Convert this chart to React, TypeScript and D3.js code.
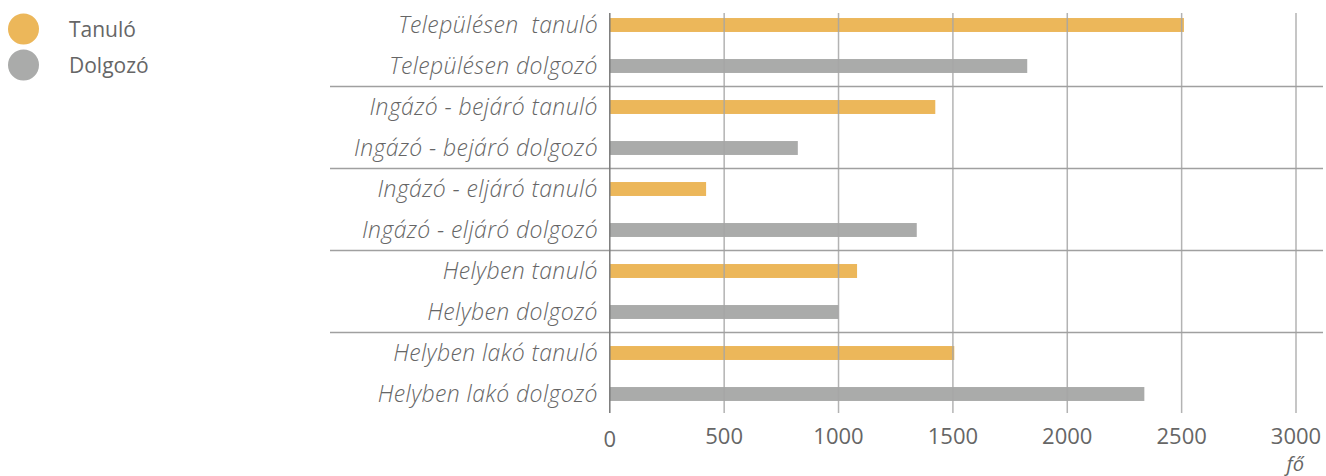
import * as d3 from "d3";

// category labels top to bottom
const categories = [
  "Településen  tanuló",
  "Településen dolgozó",
  "Ingázó - bejáró tanuló",
  "Ingázó - bejáró dolgozó",
  "Ingázó - eljáró tanuló",
  "Ingázó - eljáró dolgozó",
  "Helyben tanuló",
  "Helyben dolgozó",
  "Helyben lakó tanuló",
  "Helyben lakó dolgozó",
];
const values = [2510, 1825, 1423, 822, 421, 1342, 1081, 1000, 1506, 2337];
const kinds = ["Tanuló", "Dolgozó", "Tanuló", "Dolgozó", "Tanuló", "Dolgozó", "Tanuló", "Dolgozó", "Tanuló", "Dolgozó"];
const legendItems = ["Tanuló", "Dolgozó"];
const ticks = [0, 500, 1000, 1500, 2000, 2500, 3000];
const unitLabel = "fő";

const width = 1326;
const height = 476;
const colors: Record<string, string> = { "Tanuló": "#ECB75A", "Dolgozó": "#AAABAA" };

export default function App() {
  const x = d3.scaleLinear().domain([0, 3000]).range([609.8, 1296]);
  const y = d3.scaleBand<string>().domain(categories).range([4.5, 414.5]).paddingInner(0.66).paddingOuter(0.33);
  const bw = y.bandwidth();
  const step = y.step();
  // separator lines between pairs
  const separators = d3.range(2, categories.length, 2).map((i) => (y(categories[i]) as number) - (step - bw) / 2);

  return (
    <svg width={width} height={height} style={{ position: "absolute", left: 0, top: 0, display: "block" }}
      fontFamily="'Open Sans', sans-serif">
      {/* legend */}
      {legendItems.map((d, i) => (
        <g key={d} transform={`translate(0, ${29 + i * 36})`}>
          <circle cx={23.5} cy={0} r={15.5} fill={colors[d]} />
          <text x={69} y={8} fontSize={21} fill="#666">{d}</text>
        </g>
      ))}

      {/* bars */}
      {categories.map((c, i) => (
        <rect key={c} x={x(0)} y={y(c)} width={x(values[i]) - x(0)} height={bw} fill={colors[kinds[i]]} />
      ))}

      {/* gridlines on top */}
      {ticks.slice(1).map((t) => (
        <line key={t} x1={x(t)} x2={x(t)} y1={13} y2={413} stroke="#a6a6a6" strokeOpacity={0.85} strokeWidth={1.5} />
      ))}
      {separators.map((s) => (
        <line key={s} x1={330} x2={1323} y1={s} y2={s} stroke="#a0a0a0" strokeWidth={1.3} />
      ))}
      <line x1={x(0)} x2={x(0)} y1={13} y2={413} stroke="#7a7a7a" strokeWidth={1.5} />

      {/* category labels */}
      {categories.map((c) => (
        <text key={c} x={598} y={(y(c) as number) + bw / 2 + 8} textAnchor="end" fontSize={23}
          fontStyle="italic" fontWeight={300} letterSpacing={0.4} fill="#666" style={{ whiteSpace: "pre" }}>{c}</text>
      ))}

      {/* tick labels */}
      {ticks.map((t) => (
        <text key={t} x={x(t)} y={t === 0 ? 447 : 444} textAnchor="middle" fontSize={22} fill="#666">{t}</text>
      ))}
      <text x={1304} y={471} textAnchor="end" fontSize={20} fontStyle="italic" fill="#666">{unitLabel}</text>
    </svg>
  );
}
